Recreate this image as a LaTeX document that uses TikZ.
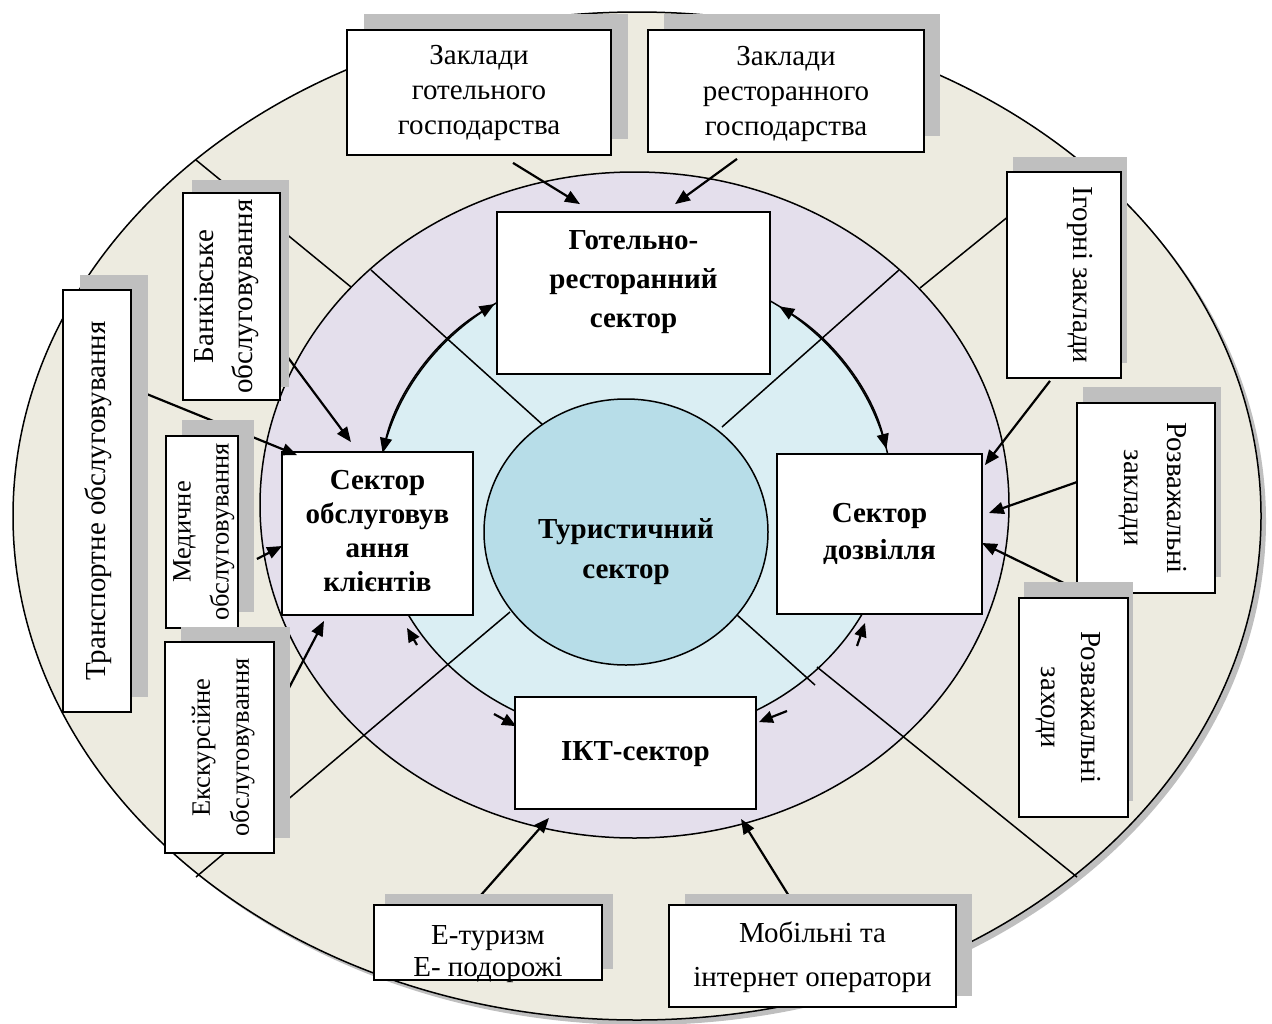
\documentclass[tikz,border=0pt]{standalone}
\usepackage{fontspec}
\setmainfont{Liberation Serif}
\usepackage{graphicx}
\usetikzlibrary{shapes.geometric,arrows.meta,shadows,calc}
\definecolor{beige}{RGB}{237,235,224}
\definecolor{lav}{RGB}{228,223,236}
\definecolor{lblue}{RGB}{218,238,243}
\definecolor{cblue}{RGB}{183,221,232}
\definecolor{shgray}{RGB}{191,191,191}
\pgfdeclarelayer{front}
\pgfsetlayers{main,front}
% horizontal text: #1 = shift up (pt), #2 = line spacing, #3 = lines
\newcommand\mt[3]{\raisebox{\dimexpr(\depth-\height)/2+#1pt\relax}[0pt][0pt]{\fontsize{29}{#2}\selectfont\begin{tabular}{@{}c@{}}#3\end{tabular}}}
% rotated text: #1 angle, #2 shift right (pt), #3 line spacing, #4 font size, #5 lines
\newcommand\rt[5]{\makebox[0pt]{\hspace*{#2pt}\hspace*{#2pt}\raisebox{\dimexpr(\depth-\height)/2\relax}[0pt][0pt]{\rotatebox{#1}{\fontsize{#4}{#3}\selectfont\begin{tabular}{@{}c@{}}#5\end{tabular}}}}}
\tikzset{
  obox/.style={draw, line width=1.8pt, fill=white, inner sep=0pt, rectangle},
  ibox/.style={draw, line width=1.8pt, fill=white, inner sep=0pt, rectangle, font=\bfseries},
  sh/.style 2 args={general shadow={fill=shgray, shadow xshift=#1pt, shadow yshift=#2pt}},
  arr/.style={line width=2.2pt, -{Triangle[length=15pt,width=12pt]}},
  sarr/.style={line width=2.2pt, -{Triangle[length=14pt,width=12pt]}},
  dbl/.style={line width=1.5pt, {Triangle[length=15pt,width=12pt]}-{Triangle[length=15pt,width=12pt]}},
  divl/.style={line width=1.5pt},
  ring/.style={ellipse, draw, line width=1.5pt, inner sep=0pt},
}
\begin{document}
\begin{tikzpicture}[x=1pt,y=1pt]
\useasboundingbox (0,0) rectangle (1272,-1023);
% rings
\node[ring, fill=beige, minimum width=1248pt, minimum height=1008pt,
      general shadow={fill=shgray, shadow xshift=5pt, shadow yshift=-5pt}] (outer) at (637,-516) {};
\node[ring, fill=lav, minimum width=749pt, minimum height=666pt] (mid) at (634.5,-505) {};
\node[ring, fill=lblue, minimum width=516pt, minimum height=472pt] (lb) at (635,-502) {};
% dividers
\draw[divl] (196,-160) -- (351,-287);
\draw[divl] (371,-270) -- (543,-425);
\draw[divl] (1078,-160) -- (920,-288);
\draw[divl] (899,-270) -- (722,-427);
\draw[divl] (196,-877) -- (510,-612);
\draw[divl] (737,-615) -- (815,-685);
\draw[divl] (817,-667) -- (1077,-877);
% centre
\node[ring, fill=cblue, minimum width=284pt, minimum height=266pt, font=\bfseries] (tur) at (626,-532)
  {\mt{-18}{40}{Туристичний\\сектор}};
% inner boxes
\node[ibox, minimum width=273pt, minimum height=162pt] (gr) at (633.5,-293)
  {\mt{12}{39}{Готельно-\\ресторанний\\сектор}};
\node[ibox, minimum width=191pt, minimum height=163pt] (so) at (377.5,-533.5)
  {\mt{0}{34}{Сектор\\обслуговув\\ання\\клієнтів}};
\node[ibox, minimum width=205pt, minimum height=160pt] (dz) at (879.5,-534)
  {\mt{0}{37}{Сектор\\дозвілля}};
\node[ibox, minimum width=241pt, minimum height=112pt] (ikt) at (635.5,-753)
  {\mt{0}{35}{ІКТ-сектор}};
% arcs between sectors
\draw[dbl] ($(lb.center)+(123:258pt and 236pt)$) arc[start angle=123, end angle=168, x radius=258pt, y radius=236pt];
\draw[dbl] ($(lb.center)+(56:258pt and 236pt)$) arc[start angle=56, end angle=13, x radius=258pt, y radius=236pt];
\coordinate (t1) at (417,-645);
\coordinate (t2) at (494,-714);
\coordinate (t3) at (857,-646);
\coordinate (t4) at (787,-711);
\draw[sarr] (t1) -- ([xshift=29.5pt,yshift=-12pt]so.south);
\draw[sarr] (t2) -- ([xshift=2pt,yshift=-30pt]ikt.north west);
\draw[sarr] (t3) -- ([xshift=-14.5pt,yshift=-8pt]dz.south);
\draw[sarr] (t4) -- ([xshift=2pt,yshift=-26pt]ikt.north east);
% outer boxes on the front layer
\begin{pgfonlayer}{front}
\path
  (479,-92.5) node[obox, sh={17}{16}, minimum width=264pt, minimum height=125pt] (zg)
    {\mt{0}{35}{Заклади\\готельного\\господарства}}
  (786,-91) node[obox, sh={16}{16}, minimum width=276pt, minimum height=122pt] (zr)
    {\mt{-2}{35}{Заклади\\ресторанного\\господарства}}
  (231.5,-296.5) node[obox, sh={9}{13}, minimum width=97pt, minimum height=207pt] (bank)
    {\rt{90}{-6}{39}{29}{Банківське\\обслуговування}}
  (97,-501) node[obox, sh={17}{15}, minimum width=68pt, minimum height=422pt] (trans)
    {\rt{90}{1}{35}{29}{Транспортне обслуговування}}
  (202,-532) node[obox, sh={16}{16}, minimum width=72pt, minimum height=192pt] (med)
    {\rt{90}{0}{38}{26.5}{Медичне\\обслуговування}}
  (219.5,-747.5) node[obox, sh={16}{15}, minimum width=109pt, minimum height=211pt] (exc)
    {\rt{90}{2}{39}{26.5}{Екскурсійне\\обслуговування}}
  (1064,-275) node[obox, sh={6}{15}, minimum width=114pt, minimum height=206pt] (igor)
    {\rt{-90}{16}{35}{29}{Ігорні заклади}}
  (1146,-498) node[obox, sh={6}{16}, minimum width=138pt, minimum height=190pt] (rzk)
    {\rt{-90}{9}{43}{29}{Розважальні\\заклади}}
  (1073.5,-707.5) node[obox, sh={5}{16}, minimum width=109pt, minimum height=219pt] (rzh)
    {\rt{-90}{-4}{40}{29}{Розважальні\\заходи}}
  (488,-942.5) node[obox, sh={11}{11}, minimum width=228pt, minimum height=75pt] (etur)
    {\mt{-12}{32}{Е-туризм\\Е- подорожі}}
  (812.5,-956) node[obox, sh={16}{11}, minimum width=287pt, minimum height=102pt] (mob)
    {\mt{0}{44}{Мобільні та\\інтернет оператори}};
\end{pgfonlayer}
% arrows (main layer, under the outer boxes)
\draw[arr] ([xshift=34pt,yshift=-7pt]zg.south) -- ([xshift=-53.5pt,yshift=7pt]gr.north);
\draw[arr] ([xshift=-49pt,yshift=-6pt]zr.south) -- ([xshift=41.5pt,yshift=7pt]gr.north);
\draw[arr] ([yshift=-51.5pt]bank.east) -- ([xshift=-26.5pt,yshift=9pt]so.north);
\draw[arr] ([yshift=113pt]trans.east) -- ([xshift=16pt,yshift=-4pt]so.north west);
\draw[arr] ([xshift=18pt,yshift=-27pt]med.east) -- ([xshift=1pt,yshift=-12.5pt]so.west);
\draw[arr] ([xshift=1pt,yshift=34.5pt]exc.east) -- ([xshift=-53.5pt,yshift=-5pt]so.south);
\draw[arr] ([xshift=-14pt,yshift=-2pt]igor.south) -- ([xshift=2pt,yshift=-12pt]dz.north east);
\draw[arr] ([xshift=1pt,yshift=16pt]rzk.west) -- ([xshift=6pt,yshift=21pt]dz.east);
\draw[arr] ([xshift=52pt,yshift=11pt]rzh.north west) -- ([xshift=-1pt,yshift=-9pt]dz.east);
\draw[arr] ([xshift=-15pt]etur.north) -- ([xshift=-86.5pt,yshift=-8pt]ikt.south);
\draw[arr] ([xshift=-18.5pt]mob.north) -- ([xshift=105.5pt,yshift=-9pt]ikt.south);
\end{tikzpicture}
\end{document}
